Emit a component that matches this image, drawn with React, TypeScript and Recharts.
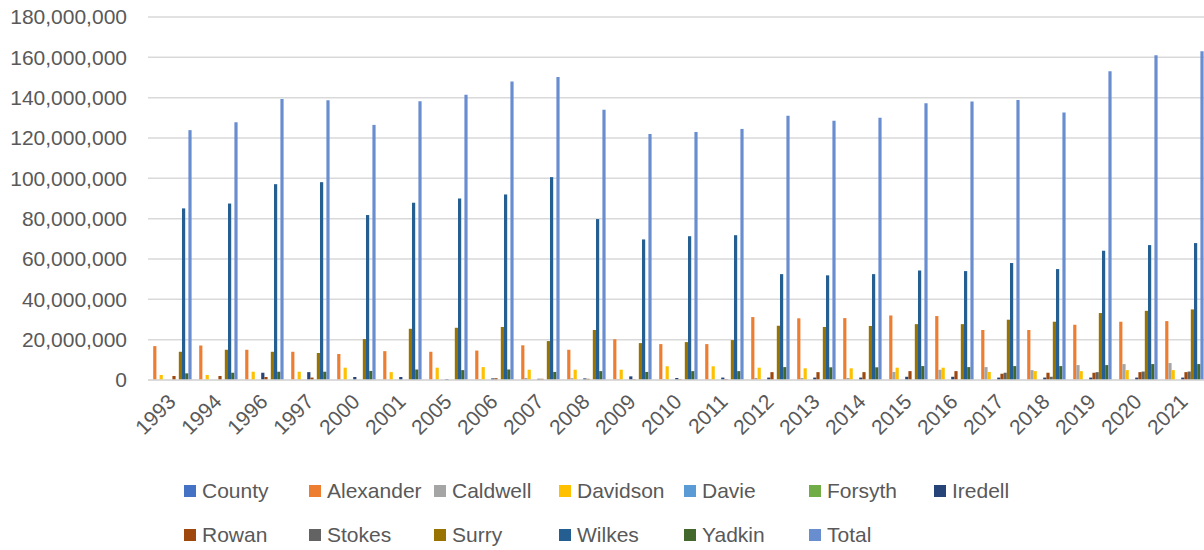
import React from "react";
import { Bar, BarChart, CartesianGrid, Legend, XAxis, YAxis } from "recharts";

const years = [
  "1993", "1994", "1996", "1997", "2000", "2001", "2005", "2006", "2007", "2008", "2009", "2010",
  "2011", "2012", "2013", "2014", "2015", "2016", "2017", "2018", "2019", "2020", "2021",
];

const county = years.map(() => 0);
const alexander = [
  16800000, 17100000, 15000000, 14000000, 12900000, 14300000, 14000000, 14600000, 17200000, 15000000, 20200000, 17800000,
  17800000, 31200000, 30600000, 30700000, 32000000, 31700000, 24800000, 24800000, 27400000, 28900000, 29200000,
];
const caldwell = [
  0, 0, 0, 0, 0, 0, 0, 300000, 1000000, 900000, 500000, 500000,
  300000, 1000000, 1000000, 1000000, 4000000, 5100000, 6400000, 4900000, 7400000, 7900000, 8400000,
];
const davidson = [
  2500000, 2500000, 4100000, 4100000, 6100000, 3900000, 6100000, 6400000, 5100000, 5100000, 5100000, 6800000,
  6800000, 6100000, 5800000, 5800000, 6100000, 6100000, 4000000, 4400000, 4400000, 4900000, 4900000,
];
const davie = years.map(() => 0);
const forsyth = years.map(() => 0);
const iredell = [
  0, 0, 3600000, 3900000, 1500000, 1500000, 500000, 800000, 600000, 800000, 1800000, 1000000,
  1200000, 1200000, 1200000, 1200000, 1600000, 1600000, 1200000, 1200000, 1200000, 1200000, 1200000,
];
const rowan = [
  2000000, 2000000, 1500000, 1200000, 0, 0, 0, 900000, 600000, 600000, 400000, 400000,
  500000, 3900000, 3900000, 3900000, 4400000, 4400000, 3100000, 3600000, 3600000, 3900000, 3900000,
];
const stokes = [
  0, 0, 0, 0, 0, 0, 0, 0, 0, 0, 0, 0,
  0, 0, 0, 0, 0, 0, 3600000, 1600000, 3900000, 4200000, 4200000,
];
const surry = [
  14000000, 15000000, 14000000, 13400000, 20300000, 25400000, 25900000, 26300000, 19300000, 24800000, 18300000, 18800000,
  19800000, 26900000, 26300000, 26800000, 27700000, 27700000, 29900000, 28900000, 33200000, 34300000, 35000000,
];
const wilkes = [
  85100000, 87500000, 97100000, 98100000, 81800000, 87900000, 90000000, 92000000, 100600000, 79800000, 69700000, 71300000,
  71800000, 52500000, 51900000, 52500000, 54300000, 54000000, 58000000, 55000000, 64100000, 66900000, 67900000,
];
const yadkin = [
  3300000, 3600000, 4100000, 4100000, 4500000, 5200000, 4900000, 5200000, 4000000, 4400000, 4000000, 4400000,
  4400000, 6400000, 6300000, 6300000, 6900000, 6400000, 6900000, 6900000, 7400000, 7900000, 7900000,
];
const total = [
  123900000, 127800000, 139400000, 138700000, 126500000, 138200000, 141400000, 148000000, 150200000, 134000000, 122000000, 123000000,
  124500000, 131000000, 128500000, 130100000, 137200000, 138100000, 138900000, 132600000, 153100000, 161000000, 163000000,
];

const yTicks = [0, 20000000, 40000000, 60000000, 80000000, 100000000, 120000000, 140000000, 160000000, 180000000];

const series = [
  { key: "County", values: county, color: "#4472C4" },
  { key: "Alexander", values: alexander, color: "#ED7D31" },
  { key: "Caldwell", values: caldwell, color: "#A5A5A5" },
  { key: "Davidson", values: davidson, color: "#FFC000" },
  { key: "Davie", values: davie, color: "#5B9BD5" },
  { key: "Forsyth", values: forsyth, color: "#70AD47" },
  { key: "Iredell", values: iredell, color: "#264478" },
  { key: "Rowan", values: rowan, color: "#9E480E" },
  { key: "Stokes", values: stokes, color: "#636363" },
  { key: "Surry", values: surry, color: "#997300" },
  { key: "Wilkes", values: wilkes, color: "#255E91" },
  { key: "Yadkin", values: yadkin, color: "#43682B" },
  { key: "Total", values: total, color: "#698ED0" },
];

const data = years.map((year, i) => {
  const row: Record<string, string | number> = { year };
  series.forEach((s) => {
    row[s.key] = s.values[i];
  });
  return row;
});

const FONT = "'Liberation Sans', Arial, sans-serif";
const TEXT = "#595959";

const YearTick = (props: any) => {
  const { x, y, payload } = props;
  return (
    <text
      x={0}
      y={0}
      transform={`translate(${x + 6},${y + 23}) rotate(-45)`}
      textAnchor="end"
      fill={TEXT}
      fontSize={21}
      fontFamily={FONT}
    >
      {payload.value}
    </text>
  );
};

const LegendBox = () => (
  <div
    style={{
      display: "flex",
      flexWrap: "wrap",
      width: 875,
      marginLeft: 184,
      paddingTop: 19,
      fontFamily: FONT,
      fontSize: 21,
      color: TEXT,
    }}
  >
    {series.map((s) => (
      <div key={s.key} style={{ width: 125, height: 44, display: "flex", alignItems: "center" }}>
        <span style={{ width: 12, height: 12, background: s.color, marginRight: 6, flex: "none" }} />
        <span style={{ whiteSpace: "nowrap" }}>{s.key}</span>
      </div>
    ))}
  </div>
);

export default function App() {
  return (
    <div
      style={{
        position: "absolute",
        left: 0,
        top: 0,
        width: 1204,
        height: 550,
        overflow: "hidden",
        background: "#fff",
      }}
    >
      <BarChart
        width={1210}
        height={550}
        data={data}
        margin={{ top: 17, right: 4, bottom: 0, left: 0 }}
        barCategoryGap="5%"
        barGap={0}
        barSize={3.2}
      >
        <CartesianGrid vertical={false} stroke="#d9d9d9" strokeWidth={1.5} />
        <XAxis
          dataKey="year"
          interval={0}
          height={70}
          tickLine={false}
          tickSize={0}
          tickMargin={0}
          axisLine={{ stroke: "#d9d9d9", strokeWidth: 1.5 }}
          tick={<YearTick />}
        />
        <YAxis
          width={148}
          domain={[0, 180000000]}
          ticks={yTicks}
          interval={0}
          axisLine={false}
          tickLine={false}
          tickSize={0}
          tickMargin={21}
          tick={{ fill: TEXT, fontSize: 21, fontFamily: FONT }}
          tickFormatter={(v) => Number(v).toLocaleString("en-US")}
        />
        <Legend
          verticalAlign="bottom"
          content={<LegendBox />}
          wrapperStyle={{ left: 0, width: 1210, height: 100 }}
        />
        {series.map((s) => (
          <Bar key={s.key} dataKey={s.key} fill={s.color} isAnimationActive={false} />
        ))}
      </BarChart>
    </div>
  );
}
